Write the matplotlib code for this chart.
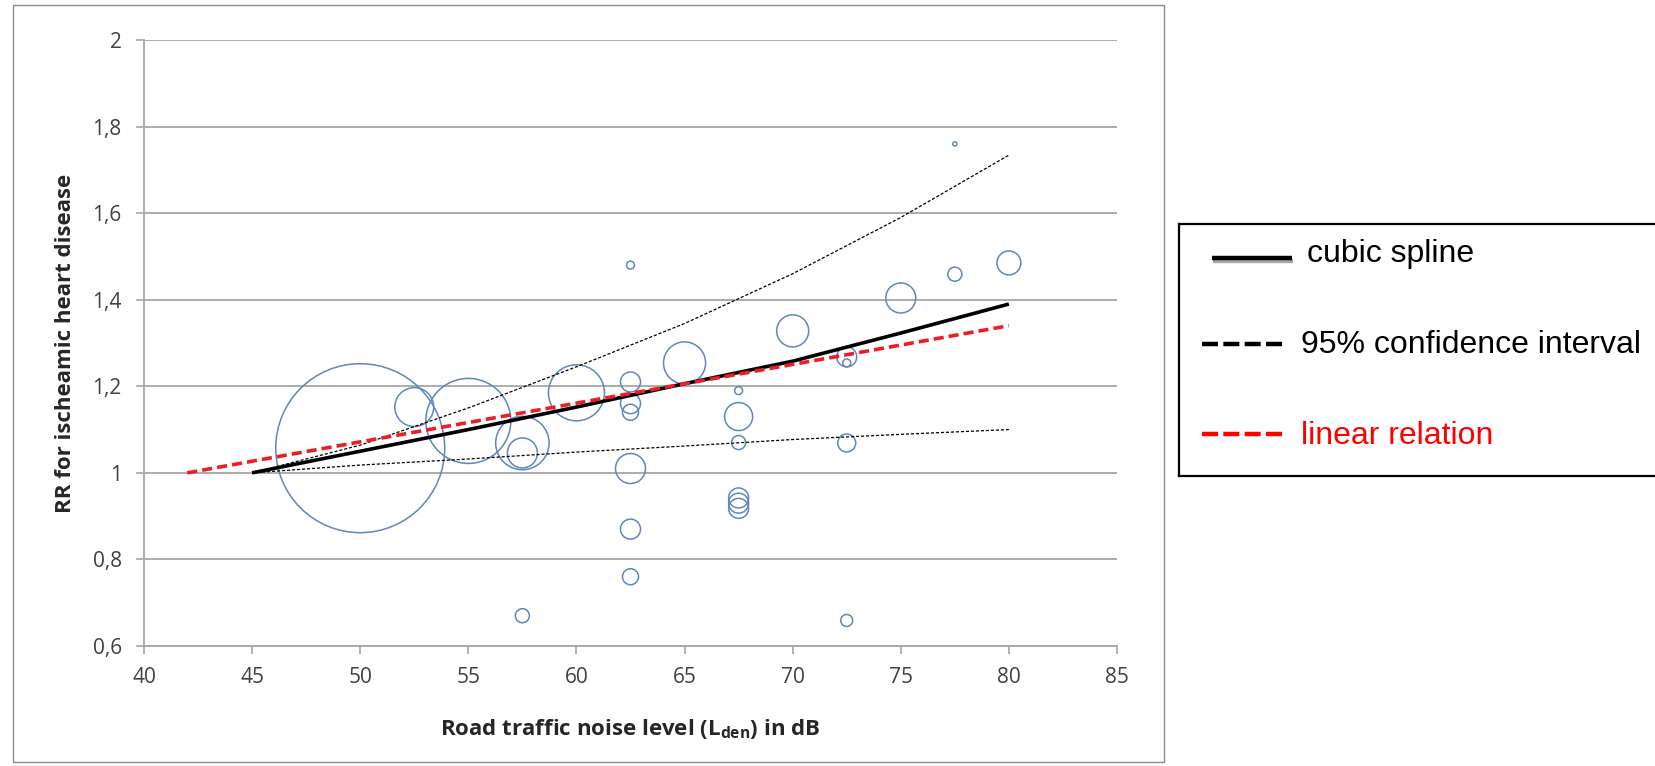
import numpy as np
import matplotlib
matplotlib.use("Agg")
import matplotlib.pyplot as plt
import matplotlib.patheffects as pe
from matplotlib.patches import Rectangle

# study estimates (bubbles): noise level, RR, relative weight (area)
study_lden = [50, 52.5, 55, 57.5, 57.5, 57.5, 60,
              62.5, 62.5, 62.5, 62.5, 62.5, 62.5, 62.5,
              65, 67.5, 67.5, 67.5, 67.5, 67.5, 67.5,
              70, 72.5, 72.5, 72.5, 72.5, 75, 77.5, 77.5, 80]
study_rr = [1.057, 1.152, 1.12, 1.069, 1.046, 0.67, 1.185,
            1.48, 1.21, 1.16, 1.14, 1.01, 0.87, 0.76,
            1.254, 1.19, 1.13, 1.07, 0.942, 0.93, 0.918,
            1.328, 1.268, 1.254, 1.069, 0.659, 1.404, 1.459, 1.76, 1.485]
study_weight = [100, 5.3, 25.3, 10.0, 3.15, 0.69, 11.0,
                0.22, 1.4, 1.4, 0.9, 3.15, 1.4, 0.9,
                6.2, 0.22, 2.75, 0.69, 1.4, 1.4, 1.4,
                3.6, 1.4, 0.22, 1.13, 0.5, 3.15, 0.69, 0.06, 2.0]

# cubic spline with 95% CI
spline_x = [45, 50, 55, 60, 65, 70, 75, 80]
spline_rr = [1.0, 1.05, 1.10, 1.152, 1.206, 1.258, 1.323, 1.39]
ci_upper = [1.0, 1.064, 1.15, 1.245, 1.345, 1.46, 1.59, 1.734]
ci_lower = [1.0, 1.018, 1.032, 1.048, 1.062, 1.077, 1.089, 1.1]

# linear relation
linear_x = [42, 80]
linear_rr = [1.0, 1.34]

xticks = [40, 45, 50, 55, 60, 65, 70, 75, 80, 85]
yticks = [0.6, 0.8, 1.0, 1.2, 1.4, 1.6, 1.8, 2.0]
ytick_labels = ["0,6", "0,8", "1", "1,2", "1,4", "1,6", "1,8", "2"]

legend_labels = ["cubic spline", "95% confidence interval", "linear relation"]

W, H = 1655, 766
fig = plt.figure(figsize=(W / 100, H / 100), dpi=100)
plt.rcParams['font.family'] = ['Open Sans', 'DejaVu Sans']

ax = fig.add_axes([144 / W, 1 - 646 / H, (1117 - 144) / W, (646 - 40) / H])

ax.scatter(study_lden, study_rr, s=np.array(study_weight) * 148,
           facecolors='none', edgecolors='#5F86BF', linewidths=1.1, zorder=2)

ax.plot(spline_x, spline_rr, color='black', lw=2.6, zorder=4,
        solid_capstyle='butt')
ax.plot(spline_x, ci_upper, color='black', lw=0.9, dashes=(2.5, 1.5), zorder=3)
ax.plot(spline_x, ci_lower, color='black', lw=0.9, dashes=(2.5, 1.5), zorder=3)
ax.plot(linear_x, linear_rr, color='#EE1C25', lw=2.6, dashes=(2.8, 1.4), zorder=5)

ax.set_xlim(40, 85)
ax.set_ylim(0.6, 2.0)
ax.set_xticks(xticks)
ax.set_yticks(yticks)
ax.set_yticklabels(ytick_labels)
ax.tick_params(axis='both', colors='#A6A6A6', labelcolor='#404040',
               labelsize=15, length=6, width=1.2)
ax.tick_params(axis='x', pad=9)
ax.tick_params(axis='y', pad=10)
ax.yaxis.grid(True, color='#A6A6A6', lw=1.3)
ax.set_axisbelow(True)
for side in ['top', 'right']:
    ax.spines[side].set_visible(False)
for side in ['left', 'bottom']:
    ax.spines[side].set_color('#A6A6A6')
    ax.spines[side].set_linewidth(1.3)

ax.set_xlabel(r'Road traffic noise level (L$_{\mathregular{den}}$) in dB',
              fontsize=16, fontweight='bold', color='#262626', labelpad=21)
ax.set_ylabel('RR for ischeamic heart disease', fontsize=16,
              fontweight='bold', color='#262626', labelpad=12)

# outer chart border
fig.add_artist(Rectangle((13 / W, 1 - 762 / H), (1164 - 13) / W, (762 - 5) / H,
                         transform=fig.transFigure, fill=False,
                         ec='#8C8C8C', lw=1.0))

# legend box (right edge runs off the figure)
lax = fig.add_axes([1179 / W, 1 - 476 / H, (1700 - 1179) / W, (476 - 224) / H])
lax.set_xlim(1179, 1700)
lax.set_ylim(476, 224)
lax.set_xticks([])
lax.set_yticks([])
for sp in lax.spines.values():
    sp.set_color('black')
    sp.set_linewidth(1.6)

lax.plot([1212, 1292], [258, 258], color='black', lw=3.2,
         solid_capstyle='butt',
         path_effects=[pe.SimpleLineShadow(offset=(1, -2), alpha=0.35),
                       pe.Normal()])
lax.plot([1202, 1282], [344, 344], color='black', lw=3.2, dashes=(3.6, 1.2))
lax.plot([1202, 1282], [434, 434], color='#FF0000', lw=3.2, dashes=(3.6, 1.2))

lfont = dict(family=['Liberation Sans', 'DejaVu Sans'], fontsize=23, va='center')
lax.text(1307, 254, legend_labels[0], color='black', **lfont)
lax.text(1301, 345, legend_labels[1], color='black', **lfont)
lax.text(1301, 436, legend_labels[2], color='#FF0000', **lfont)

fig.savefig('out.png', dpi=100)
